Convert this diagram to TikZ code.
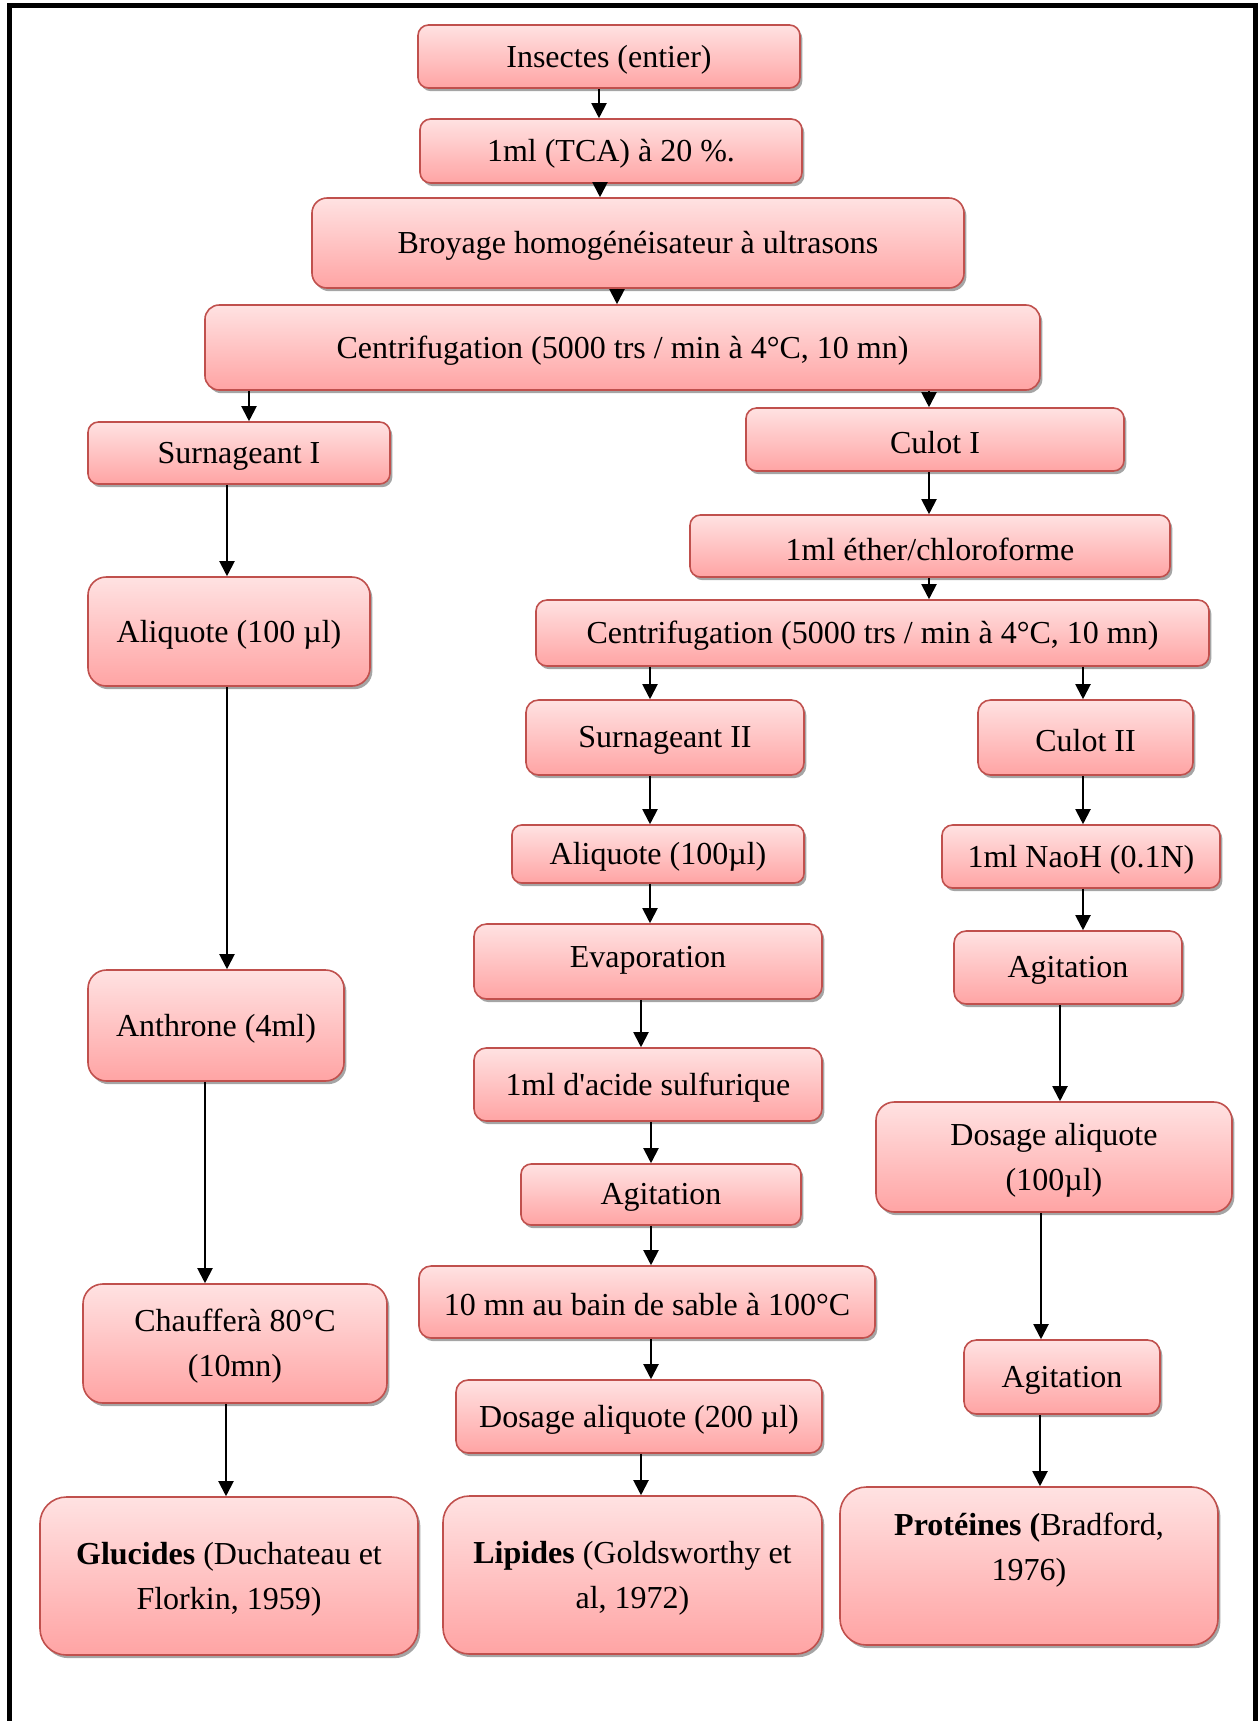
\documentclass[tikz,border=0pt]{standalone}
\usepackage{fontspec}
\setmainfont{Liberation Serif}
\usetikzlibrary{shadows,arrows.meta}
\definecolor{boxtop}{RGB}{255,226,226}
\definecolor{boxbot}{RGB}{255,164,164}
\definecolor{boxline}{RGB}{192,80,77}
\definecolor{shadowc}{RGB}{165,165,165}
\tikzset{
  box/.style={draw=boxline, line width=0.8pt, top color=boxtop, bottom color=boxbot,
    drop shadow={shadow xshift=1.2pt, shadow yshift=-1.6pt, fill=shadowc, opacity=1}, inner sep=0pt},
  txt/.style={font=\fontsize{16}{22.5}\selectfont, align=center, inner sep=0pt},
  arr/.style={line width=1pt, -{Triangle[width=7.5pt,length=7.5pt]}},
  frame/.style={line width=2.5pt, line cap=butt, line join=miter}
}
% \bx[text shift px]{name}{x1}{y1}{x2}{y2}{text}
\newcommand\bx[7][0]{%
  \pgfmathsetmacro\bw{(#5-#3)*0.5}%
  \pgfmathsetmacro\bh{(#6-#4)*0.5}%
  \pgfmathsetmacro\br{min(\bw,\bh)/6}%
  \node[box, minimum width=\bw pt, minimum height=\bh pt, rounded corners=\br pt] (#2) at ({(#3+#5)/2},{(#4+#6)/2}) {};%
  \node[txt] (#2 t) at ([yshift=(#1-3)*0.5pt]#2.center) {#7};%
}
% \ar{from}{to}{x px}
\newcommand\ar[3]{%
  \coordinate (x-#1-#2) at (#3,0);%
  \draw[arr] (#1.south -| x-#1-#2) -- (#2.north -| x-#1-#2);%
}
\begin{document}
\begin{tikzpicture}[x=0.5pt,y=-0.5pt]
\useasboundingbox (0,0) rectangle (1258,1721);
\draw[frame] (9.5,1721) -- (9.5,5.5) -- (1255.5,5.5) -- (1255.5,1721);

\bx{ins}{418}{25}{800}{88}{Insectes (entier)}
\bx{tca}{420}{119}{802}{183}{1ml (TCA) à 20 \%.}
\bx{bro}{312}{198}{964}{288}{Broyage homogénéisateur à ultrasons}
\bx{cen}{205}{305}{1040}{390}{Centrifugation (5000 trs / min à 4°C, 10 mn)}
\bx{su1}{88}{422}{390}{484}{Surnageant I}
\bx{cu1}{746}{408}{1124}{471}{Culot I}
\bx{eth}{690}{515}{1170}{577}{1ml éther/chloroforme}
\bx{ce2}{536}{600}{1209}{666}{Centrifugation (5000 trs / min à 4°C, 10 mn)}
\bx{su2}{526}{700}{804}{775}{Surnageant II}
\bx{cu2}{978}{700}{1193}{775}{Culot II}
\bx{al1}{88}{577}{370}{686}{Aliquote (100 µl)}
\bx{ant}{88}{970}{344}{1081}{Anthrone (4ml)}
\bx{cha}{83}{1284}{387}{1403}{Chaufferà 80°C\\(10mn)}
\bx{glu}{40}{1497}{418}{1655}{\textbf{Glucides} (Duchateau et\\Florkin, 1959)}
\bx{al2}{512}{825}{804}{883}{Aliquote (100µl)}
\bx[4]{eva}{474}{924}{822}{999}{Evaporation}
\bx{aci}{474}{1048}{822}{1121}{1ml d\textquotesingle acide sulfurique}
\bx{ag1}{521}{1164}{801}{1225}{Agitation}
\bx{bai}{419}{1266}{875}{1338}{10 mn au bain de sable à 100°C}
\bx{do2}{456}{1380}{822}{1453}{Dosage aliquote (200 µl)}
\bx{lip}{443}{1496}{822}{1654}{\textbf{Lipides} (Goldsworthy et\\al, 1972)}
\bx{nao}{942}{825}{1220}{888}{1ml NaoH (0.1N)}
\bx{ag2}{954}{931}{1182}{1004}{Agitation}
\bx{do1}{876}{1102}{1232}{1212}{Dosage aliquote\\(100µl)}
\bx{ag3}{964}{1340}{1160}{1414}{Agitation}
\bx[19]{pro}{840}{1487}{1218}{1645}{\textbf{Protéines (}Bradford,\\1976)}

\ar{ins}{tca}{599}
\ar{tca}{bro}{600}
\ar{bro}{cen}{617}
\ar{cen}{su1}{249}
\ar{cen}{cu1}{929}
\ar{su1}{al1}{227}
\ar{al1}{ant}{227}
\ar{ant}{cha}{205}
\ar{cha}{glu}{226}
\ar{cu1}{eth}{929}
\ar{eth}{ce2}{929}
\ar{ce2}{su2}{650}
\ar{ce2}{cu2}{1083}
\ar{su2}{al2}{650}
\ar{al2}{eva}{650}
\ar{eva}{aci}{641}
\ar{aci}{ag1}{651}
\ar{ag1}{bai}{651}
\ar{bai}{do2}{651}
\ar{do2}{lip}{641}
\ar{cu2}{nao}{1083}
\ar{nao}{ag2}{1083}
\ar{ag2}{do1}{1060}
\ar{do1}{ag3}{1041}
\ar{ag3}{pro}{1040}
\end{tikzpicture}
\end{document}
